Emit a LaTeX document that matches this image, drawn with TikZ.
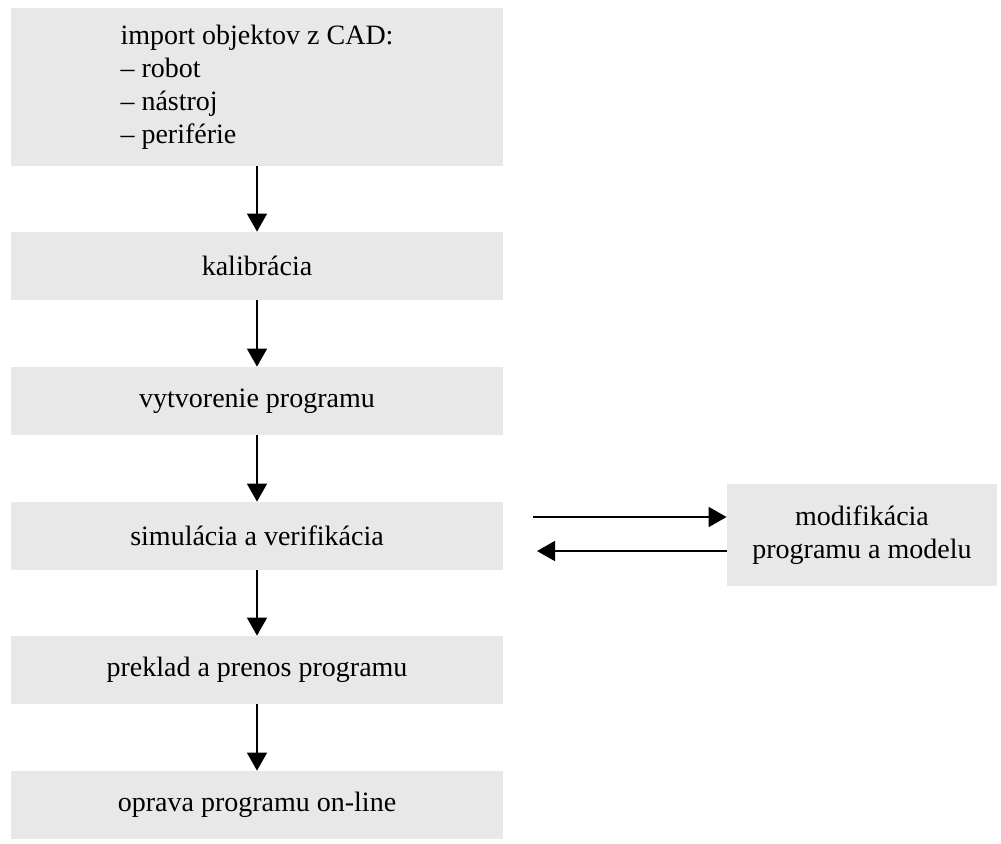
\documentclass[tikz,border=0pt]{standalone}
\usepackage{fontspec}
\setmainfont{Liberation Serif}
\usepackage{xcolor}
\usepackage{tikz}
\usetikzlibrary{positioning}
\usetikzlibrary{arrows.meta}
\pgfdeclarelayer{nodelayer}
\pgfdeclarelayer{edgelayer}
\pgfsetlayers{nodelayer,edgelayer,main}
\definecolor{boxgray}{RGB}{232,232,232}
\tikzset{
  stepbox/.style={fill=boxgray, inner sep=0pt, minimum width=246pt, minimum height=34pt, font=\fontsize{14}{16.5}\selectfont},
  arr/.style={line width=0.75pt, -{Triangle[width=10pt,length=9pt]}}
}

\begin{document}
\begin{tikzpicture}[x=0.5pt, y=-0.5pt]
  \useasboundingbox (0, 0) rectangle (1001, 843);
  \begin{pgfonlayer}{nodelayer}
    \node [stepbox, minimum height=79pt, align=left] (0) at (257, 87) {import objektov z CAD:\\– robot\\– nástroj\\– periférie};
    \node [stepbox] (1) at (257, 266) {kalibrácia};
    \node [stepbox] (2) at (257, 401) {vytvorenie programu};
    \node [stepbox] (3) at (257, 536) {simulácia a verifikácia};
    \node [stepbox] (4) at (257, 670) {preklad a prenos programu};
    \node [stepbox] (5) at (257, 805) {oprava programu on-line};
    \node [stepbox, minimum width=135pt, minimum height=51pt, align=center] (6) at (862, 535) {modifikácia\\programu a modelu};
    \coordinate (7) at (533, 517);
    \coordinate (8) at (537, 551);
  \end{pgfonlayer}
  \begin{pgfonlayer}{edgelayer}
    \draw [arr] (0) to (1);
    \draw [arr] (1) to (2);
    \draw [arr] (2) to (3);
    \draw [arr] (3) to (4);
    \draw [arr] (4) to (5);
    \draw [arr] (7) to (7 -| 6.west);
    \draw [arr] (8 -| 6.west) to (8);
  \end{pgfonlayer}
\end{tikzpicture}
\end{document}
